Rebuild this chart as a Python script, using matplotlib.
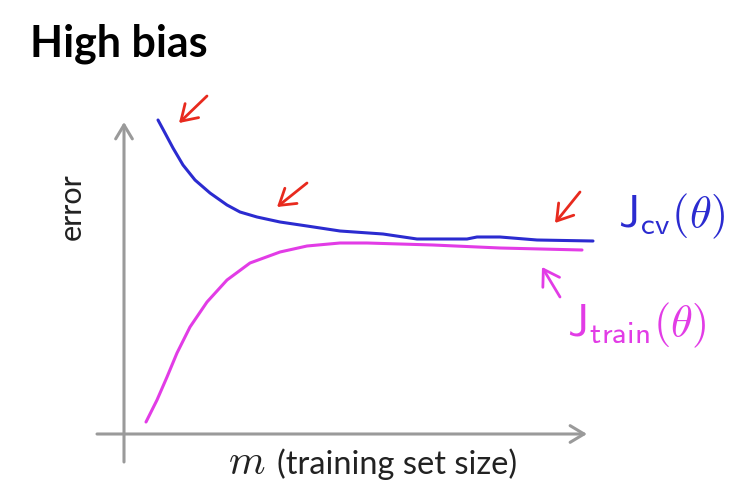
import matplotlib
matplotlib.use("Agg")
import matplotlib.pyplot as plt

# learning curves (x: training set size, y: error)
m_cv = [3.4, 4.1, 4.9, 5.9, 7.1, 8.6, 10.3, 11.6, 13.3, 15.6, 18.3, 21.6,
        25.9, 29.3, 34.3, 35.3, 37.6, 41.3, 46.9]
j_cv = [31.4, 30.1, 28.6, 26.9, 25.4, 24.1, 22.9, 22.2, 21.7, 21.2, 20.8, 20.3,
        20.0, 19.5, 19.5, 19.7, 19.7, 19.4, 19.3]

m_train = [2.2, 3.3, 4.3, 5.3, 6.6, 8.3, 10.3, 12.6, 15.6, 18.3, 21.6,
           24.3, 30.9, 37.6, 45.8]
j_train = [1.2, 3.4, 5.7, 8.1, 10.7, 13.2, 15.4, 17.1, 18.2, 18.8, 19.1,
           19.1, 18.9, 18.6, 18.4]

# red "look here" arrows: (tail, tip)
red_arrows = [((8.3, 33.8), (5.5, 31.1)),
              ((18.3, 25.1), (15.3, 22.7)),
              ((45.6, 24.2), (43.1, 21.1))]
train_arrow = ((43.6, 13.7), (41.8, 16.7))

BLUE = '#2b2bd0'
MAGENTA = '#e23ce6'
RED = '#e82a1e'
GRAY = '#9a9a9a'

plt.rcParams['font.family'] = ['Lato', 'DejaVu Sans']
plt.rcParams['mathtext.fontset'] = 'cm'

fig = plt.figure(figsize=(7.46, 4.9), dpi=100)
ax = fig.add_axes([0, 0, 1, 1])
ax.set_xlim(-12.4, 62.2)
ax.set_ylim(-5.6, 43.4)
ax.axis('off')

# axes drawn as grey arrows
ax.annotate('', xy=(46.3, 0), xytext=(-2.7, 0),
            arrowprops=dict(arrowstyle='->,head_length=0.5,head_width=0.3', color=GRAY,
                            lw=2.2, mutation_scale=20, shrinkA=0, shrinkB=0))
ax.annotate('', xy=(0, 31.2), xytext=(0, -2.8),
            arrowprops=dict(arrowstyle='->,head_length=0.5,head_width=0.3', color=GRAY,
                            lw=2.2, mutation_scale=20, shrinkA=0, shrinkB=0))

ax.plot(m_cv, j_cv, color=BLUE, lw=2.2, solid_capstyle='round', solid_joinstyle='round')
ax.plot(m_train, j_train, color=MAGENTA, lw=2.2, solid_capstyle='round', solid_joinstyle='round')

for tail, tip in red_arrows:
    ax.annotate('', xy=tip, xytext=tail,
                arrowprops=dict(arrowstyle='->,head_length=0.55,head_width=0.35', color=RED,
                                lw=2.0, mutation_scale=20, shrinkA=0, shrinkB=0))
ax.annotate('', xy=train_arrow[1], xytext=train_arrow[0],
            arrowprops=dict(arrowstyle='->,head_length=0.55,head_width=0.35', color=MAGENTA,
                            lw=2.0, mutation_scale=20, shrinkA=0, shrinkB=0))

ax.text(49.4, 21.8, r'$\mathsf{J}_{\mathsf{cv}}(\theta)$', color=BLUE, fontsize=32,
        ha='left', va='center')
ax.text(44.3, 10.9, r'$\mathsf{J}_{\mathsf{train}}(\theta)$', color=MAGENTA, fontsize=32,
        ha='left', va='center')

fig.text(30 / 746, 1 - 57 / 490, 'High bias', fontsize=31, fontweight='bold',
         ha='left', va='baseline', color='black')
fig.text(72 / 746, 1 - 207 / 490, 'error', fontsize=22, rotation=90,
         ha='center', va='center', color='#222222')
ax.text(10.4, -4.0, r'$m$', fontsize=30, ha='left', va='baseline', color='#222222')
ax.text(15.3, -4.0, '(training set size)', fontsize=23.5, ha='left', va='baseline',
        color='#222222')

fig.savefig('out.png', dpi=100, facecolor='white')
